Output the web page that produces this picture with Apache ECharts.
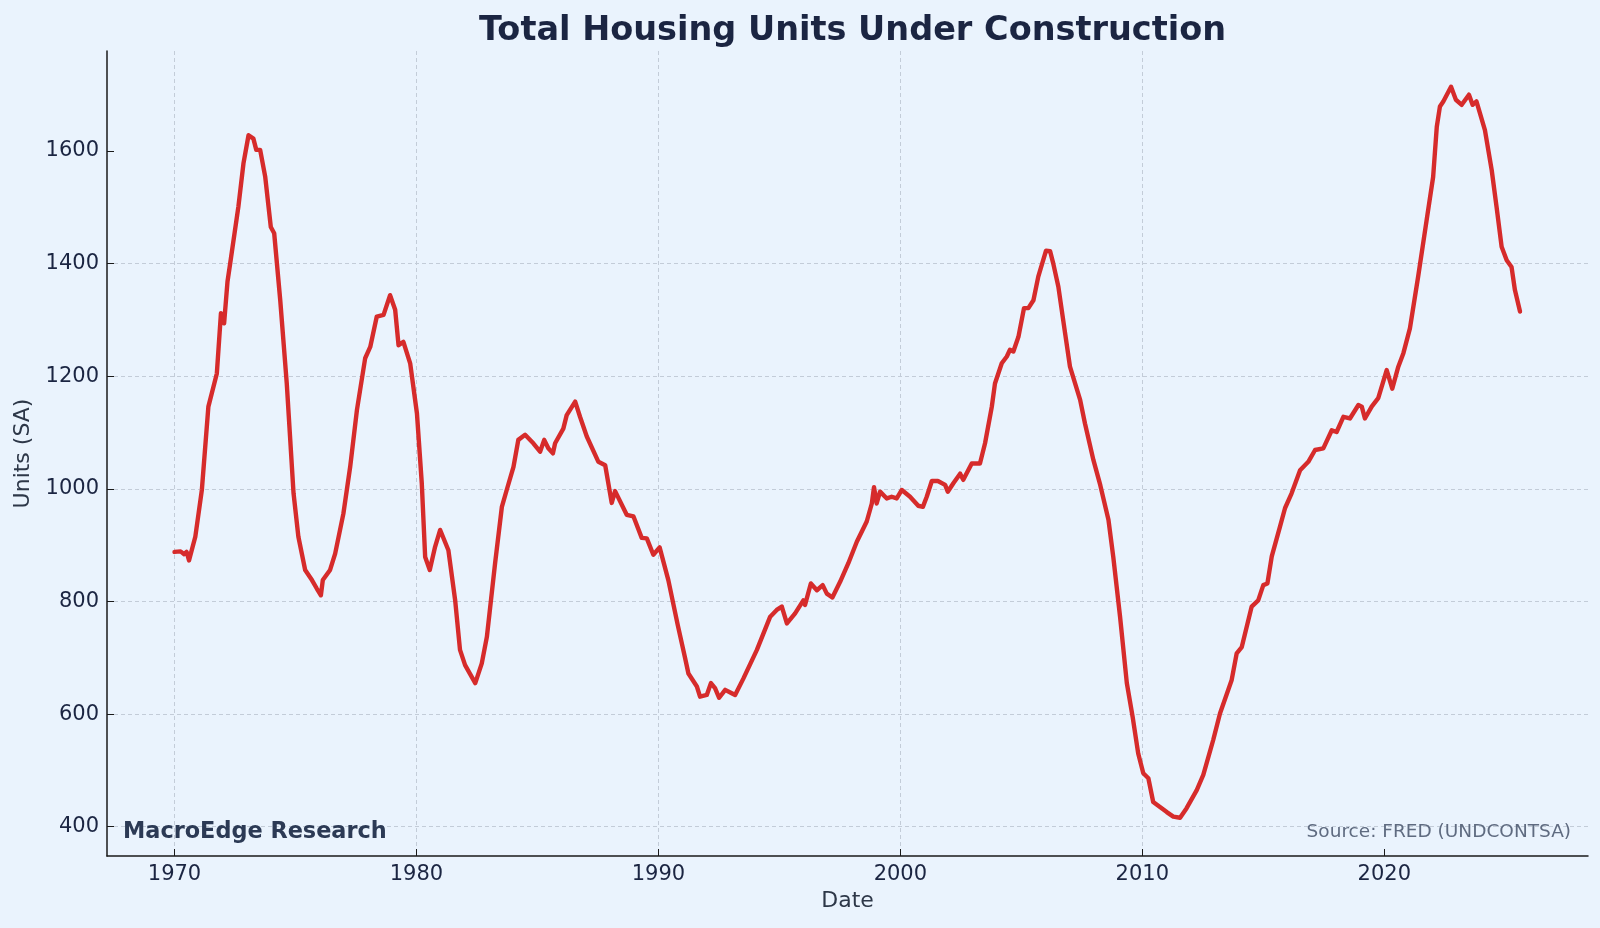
<!DOCTYPE html>
<html>
<head>
<meta charset="utf-8">
<script src="https://cdn.jsdelivr.net/npm/echarts@6/dist/echarts.min.js"></script>
<style>
html,body{margin:0;padding:0;background:#eaf3fd;}
#chart{width:1600px;height:928px;}
</style>
</head>
<body>
<div id="chart"></div>
<script>
const years = [1970.0,1970.25,1970.4,1970.5,1970.6,1970.86,1971.13,1971.4,1971.75,1971.92,1972.05,1972.19,1972.3,1972.64,1972.85,1973.06,1973.26,1973.38,1973.54,1973.75,1973.98,1974.12,1974.37,1974.64,1974.92,1975.12,1975.4,1975.68,1975.88,1976.05,1976.13,1976.43,1976.64,1976.98,1977.26,1977.54,1977.88,1978.09,1978.36,1978.64,1978.91,1979.12,1979.26,1979.46,1979.74,1980.02,1980.22,1980.36,1980.55,1980.77,1980.98,1981.32,1981.6,1981.8,1982.01,1982.43,1982.7,1982.91,1983.25,1983.53,1983.73,1984.01,1984.21,1984.49,1984.83,1985.11,1985.28,1985.45,1985.64,1985.73,1986.07,1986.21,1986.56,1986.76,1987.04,1987.52,1987.8,1988.07,1988.21,1988.69,1988.97,1989.31,1989.52,1989.79,1990.05,1990.41,1990.8,1991.1,1991.24,1991.59,1991.72,1992.0,1992.17,1992.34,1992.51,1992.76,1993.03,1993.17,1993.51,1994.07,1994.62,1994.89,1995.1,1995.31,1995.65,1995.99,1996.06,1996.3,1996.55,1996.79,1996.96,1997.19,1997.51,1997.85,1998.2,1998.61,1998.82,1998.91,1999.02,1999.16,1999.44,1999.64,1999.85,2000.06,2000.4,2000.74,2000.93,2001.09,2001.3,2001.55,2001.85,2001.96,2002.19,2002.47,2002.6,2002.95,2003.29,2003.5,2003.78,2003.91,2004.19,2004.4,2004.53,2004.67,2004.88,2005.11,2005.29,2005.5,2005.7,2006.02,2006.19,2006.32,2006.53,2006.81,2007.01,2007.43,2007.63,2007.98,2008.26,2008.6,2008.8,2009.08,2009.36,2009.6,2009.83,2010.04,2010.25,2010.45,2010.73,2011.01,2011.28,2011.56,2011.83,2012.25,2012.52,2012.93,2013.21,2013.69,2013.9,2014.11,2014.52,2014.79,2015.0,2015.17,2015.35,2015.69,2015.9,2016.17,2016.52,2016.86,2017.14,2017.48,2017.83,2018.03,2018.31,2018.58,2018.93,2019.07,2019.2,2019.48,2019.75,2020.1,2020.33,2020.58,2020.79,2021.06,2021.4,2021.75,2022.02,2022.17,2022.3,2022.44,2022.76,2022.96,2023.2,2023.5,2023.65,2023.81,2024.16,2024.44,2024.64,2024.85,2025.06,2025.26,2025.4,2025.61];
const units = [888,889,884,888,873,915,998,1146,1205,1312,1294,1368,1400,1501,1578,1628,1622,1602,1602,1554,1465,1454,1335,1187,992,915,856,838,823,811,838,856,885,956,1039,1140,1232,1252,1306,1309,1344,1318,1255,1261,1223,1134,1010,879,856,897,927,891,802,714,687,655,690,737,868,968,998,1039,1087,1096,1081,1066,1087,1072,1063,1081,1107,1131,1155,1128,1093,1048,1042,975,996,954,951,913,912,883,896,838,758,700,672,649,631,634,655,646,629,643,637,634,663,714,773,785,791,761,779,802,794,832,820,829,814,807,835,868,906,942,974,1003,974,995,983,986,983,998,986,970,968,986,1014,1014,1007,995,1010,1027,1016,1045,1045,1081,1146,1187,1223,1235,1247,1244,1270,1321,1321,1335,1377,1423,1422,1400,1359,1276,1217,1158,1116,1051,1007,945,879,773,655,595,530,495,486,444,435,426,418,416,433,465,492,554,601,660,708,719,791,802,829,832,880,933,966,992,1033,1048,1069,1072,1104,1101,1128,1125,1149,1146,1125,1146,1161,1211,1178,1217,1241,1285,1377,1477,1554,1643,1679,1688,1714,1691,1682,1700,1682,1688,1637,1566,1501,1430,1406,1394,1353,1315];
const xTicks = [1970,1980,1990,2000,2010,2020];
const yTicks = [400,600,800,1000,1200,1400,1600];
const titleText = 'Total Housing Units Under Construction';
const xName = 'Date';
const yName = 'Units (SA)';
const brandText = 'MacroEdge Research';
const sourceText = 'Source: FRED (UNDCONTSA)';

const chart = echarts.init(document.getElementById('chart'), null, {renderer:'canvas'});
const FONT = 'DejaVu Sans';
const data = years.map((y,i)=>[y, units[i]]);
const gridLeft = 107, gridRight = 12, gridTop = 51, gridBottom = 72;
chart.setOption({
  backgroundColor: '#eaf3fd',
  animation: false,
  title: {
    text: titleText,
    left: (gridLeft + (1600-gridRight))/2, textAlign: 'center',
    top: 9,
    textStyle: {fontFamily: FONT, fontSize: 33.5, fontWeight: 'bold', color: '#1b2542'}
  },
  grid: {left: gridLeft, right: gridRight, top: gridTop, bottom: gridBottom, containLabel: false},
  xAxis: {
    type: 'value', min: 1967.21, max: 2028.42,
    minInterval: 10, maxInterval: 10,
    name: xName, nameLocation: 'middle', nameGap: 34,
    nameTextStyle: {fontFamily: FONT, fontSize: 22, color: '#2d3748'},
    axisLine: {show: true, lineStyle: {color: '#1a1a1a', width: 1.5}},
    axisTick: {show: true, inside: true, length: 7, customValues: xTicks, lineStyle: {color: '#1a1a1a', width: 1}},
    axisLabel: {customValues: xTicks, formatter: v => String(Math.round(v)), fontFamily: FONT, fontSize: 21, color: '#1b2542', margin: 8},
    splitLine: {show: true, interval: 0, showMinLine: true, showMaxLine: false, lineStyle: {color: '#c3ccd8', type: [4,3], width: 1}}
  },
  yAxis: {
    type: 'value', min: 348, max: 1777.6,
    minInterval: 200, maxInterval: 200,
    name: yName, nameLocation: 'middle', nameGap: 73,
    nameTextStyle: {fontFamily: FONT, fontSize: 22, color: '#2d3748'},
    axisLine: {show: true, lineStyle: {color: '#1a1a1a', width: 1.5}},
    axisTick: {show: true, inside: true, length: 7, customValues: yTicks, lineStyle: {color: '#1a1a1a', width: 1}},
    axisLabel: {customValues: yTicks, formatter: v => String(Math.round(v)), fontFamily: FONT, fontSize: 21, color: '#1b2542', margin: 8},
    splitLine: {show: true, interval: 0, showMinLine: true, showMaxLine: false, lineStyle: {color: '#c3ccd8', type: [4,3], width: 1}}
  },
  series: [{
    type: 'line', data: data, showSymbol: false, smooth: false,
    lineStyle: {color: '#d62b2b', width: 4.4, join: 'round', cap: 'round'},
    z: 5
  }],
  graphic: [
    {type: 'text', left: gridLeft + 16, top: 821, z: 10,
     style: {text: brandText, font: 'bold 22.4px "DejaVu Sans"', fill: '#2c3a55'}},
    {type: 'text', right: gridRight + 17, top: 823, z: 10,
     style: {text: sourceText, font: '18.5px "DejaVu Sans"', fill: '#5f6b80'}}
  ]
});
</script>
</body>
</html>
